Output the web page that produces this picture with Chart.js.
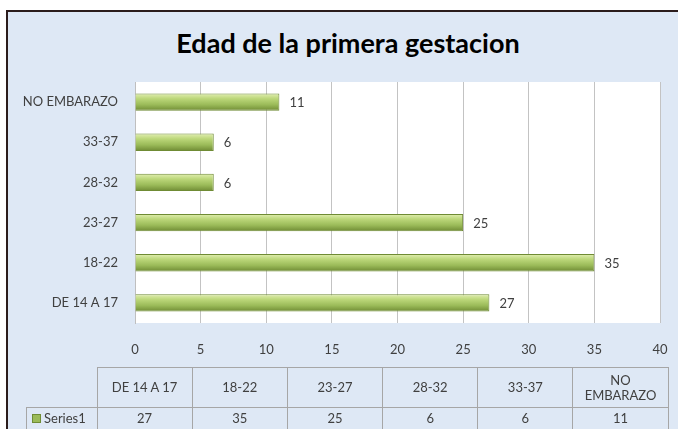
<!DOCTYPE html>
<html>
<head>
<meta charset="utf-8">
<script src="https://cdn.jsdelivr.net/npm/chart.js@4.4.1/dist/chart.umd.min.js"></script>
<style>
    html, body { margin: 0; padding: 0; background: #ffffff; overflow: hidden; }
    #frame {
        position: absolute; left: 6px; top: 10px; width: 700px; height: 440px;
        background: #dee8f5; border-left: 2px solid #2b1c1c; border-top: 2px solid #2b1c1c;
    }
    #title {
        position: absolute; left: 0; top: 26px; width: 696px; text-align: center;
        font: bold 27px Lato, sans-serif; color: #000000;
    }
    #chart { position: absolute; left: 0; top: 0; }
    #table {
        position: absolute; left: 26px; top: 367px; border-collapse: collapse;
        font: 13px Lato, sans-serif; color: #404040; table-layout: fixed;
    }
    #table td { border: 1px solid #a6a6a6; text-align: center; padding: 0; line-height: 15px; }
    #table td.blank { border: none; }
    .key { display: inline-block; width: 7px; height: 7px; background: #9bbb59; border: 1px solid #6f8c35; margin-right: 3px; }
</style>
</head>
<body>
<div id="frame"></div>
<div id="title">Edad de la primera gestacion</div>
<canvas id="chart" width="678" height="429"></canvas>
<table id="table"></table>
<script>
// Edad de la primera gestacion - categories (bottom to top)
const categories = ['DE 14 A 17', '18-22', '23-27', '28-32', '33-37', 'NO EMBARAZO'];
const headerLabels = ['DE 14 A 17', '18-22', '23-27', '28-32', '33-37', 'NO<br>EMBARAZO'];
const seriesName = 'Series1';
const series1 = [27, 35, 25, 6, 6, 11];
const xTicks = [0, 5, 10, 15, 20, 25, 30, 35, 40];
const barFraction = 0.43;

// Build the data table under the chart
function buildTable() {
    const table = document.getElementById('table');
    let head = '<tr style="height:40px"><td class="blank" style="width:70px"></td>';
    headerLabels.forEach(label => {
        head += `<td style="width:94.2px">${label}</td>`;
    });
    head += '</tr>';
    let row = `<tr style="height:22px"><td style="text-align:left;padding-left:5px"><span class="key"></span>${seriesName}</td>`;
    series1.forEach(v => {
        row += `<td>${v}</td>`;
    });
    row += '</tr>';
    table.innerHTML = head + row;
}

// White plot area
const plotBackground = {
    id: 'plotBackground',
    beforeDraw(chart) {
        const a = chart.chartArea;
        chart.ctx.save();
        chart.ctx.fillStyle = '#ffffff';
        chart.ctx.fillRect(a.left, a.top, a.right - a.left, a.bottom - a.top);
        chart.ctx.restore();
    }
};

// Vertical green gradient per bar, placed from the category scale
function barGradient(c) {
    const yScale = c.chart.scales.y;
    if (!yScale || yScale.top == null || c.dataIndex == null) return '#9bbb59';
    const center = yScale.getPixelForValue(c.dataIndex);
    const h = (yScale.bottom - yScale.top) / categories.length * barFraction;
    const top = center - h / 2;
    const g = c.chart.ctx.createLinearGradient(0, top, 0, top + h);
    g.addColorStop(0, '#e2efb2');
    g.addColorStop(0.3, '#bcd77a');
    g.addColorStop(0.65, '#9bbb59');
    g.addColorStop(1, '#6f8b34');
    return g;
}

// Value labels at the end of each bar
const valueLabels = {
    id: 'valueLabels',
    afterDatasetsDraw(chart) {
        const ctx = chart.ctx;
        ctx.save();
        ctx.font = '13px Lato, sans-serif';
        ctx.fillStyle = '#404040';
        ctx.textAlign = 'left';
        ctx.textBaseline = 'middle';
        chart.getDatasetMeta(0).data.forEach((bar, i) => {
            ctx.fillText(series1[i], bar.x + 10, bar.y + 1);
        });
        ctx.restore();
    }
};

buildTable();

const ctx = document.getElementById('chart').getContext('2d');
const chart = new Chart(ctx, {
    type: 'bar',
    data: {
        labels: categories,
        datasets: [
            {
                label: seriesName,
                data: series1,
                backgroundColor: barGradient,
                borderColor: '#6f8b34',
                borderWidth: 1,
                barPercentage: barFraction,
                categoryPercentage: 1
            }
        ]
    },
    options: {
        indexAxis: 'y',
        responsive: false,
        animation: false,
        layout: { padding: { top: 82, right: 18, left: 0, bottom: 0 } },
        plugins: {
            legend: { display: false },
            title: { display: false },
            tooltip: { enabled: false }
        },
        scales: {
            x: {
                min: 0,
                max: 40,
                afterBuildTicks: scale => { scale.ticks = xTicks.map(v => ({ value: v })); },
                afterFit: scale => { scale.height = 106; },
                grid: { color: '#c3c3c3', drawTicks: true, tickLength: 19, tickColor: 'rgba(0,0,0,0)' },
                border: { display: false },
                ticks: { padding: 0, color: '#404040', font: { family: 'Lato', size: 13 } }
            },
            y: {
                reverse: true,
                afterFit: scale => { scale.width = 135; },
                grid: { display: false, drawTicks: false },
                border: { color: '#bfbfbf' },
                ticks: { padding: 17, color: '#404040', font: { family: 'Lato', size: 13 } }
            }
        }
    },
    plugins: [plotBackground, valueLabels]
});
</script>
</body>
</html>
